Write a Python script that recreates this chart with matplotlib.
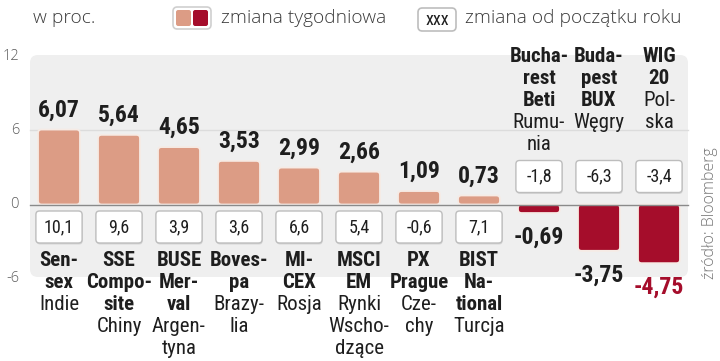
import numpy as np
from matplotlib import pyplot as plt
from matplotlib.patches import FancyBboxPatch
from matplotlib import font_manager as fm

# dane (w proc.)
index_names = ["Sen-\nsex", "SSE\nCompo-\nsite", "BUSE\nMer-\nval", "Boves-\npa",
               "MI-\nCEX", "MSCI\nEM", "PX\nPrague", "BIST\nNa-\ntional",
               "Bucha-\nrest\nBeti", "Buda-\npest\nBUX", "WIG\n20"]
countries = ["Indie", "Chiny", "Argen-\ntyna", "Brazy-\nlia", "Rosja",
             "Rynki\nWscho-\ndzące", "Cze-\nchy", "Turcja", "Rumu-\nnia",
             "Węgry", "Pol-\nska"]
weekly = [6.07, 5.64, 4.65, 3.53, 2.99, 2.66, 1.09, 0.73, -0.69, -3.75, -4.75]
ytd = [10.1, 9.6, 3.9, 3.6, 6.6, 5.4, -0.6, 7.1, -1.8, -6.3, -3.4]
yticks = [12, 6, 0, -6]
highlight = "WIG\n20"

# szukamy wąskiego kroju, jeśli go nie ma - Roboto
ttf = fm.fontManager.ttflist
avail = {f.name for f in ttf}
cond, stretch = 'Roboto' if 'Roboto' in avail else 'DejaVu Sans', 'normal'
for pref in ['Roboto Condensed', 'Liberation Sans Narrow', 'Open Sans Condensed',
             'Noto Sans', 'DejaVu Sans', 'Open Sans']:
    hit = [f for f in ttf if f.name == pref and f.stretch != 'normal']
    if hit or (pref in avail and ('Condensed' in pref or 'Narrow' in pref)):
        cond = pref
        stretch = hit[0].stretch if hit else 'normal'
        break
light = 'Open Sans' if 'Open Sans' in avail else 'DejaVu Sans'

def fmt(v):
    return ("%.2f" % v).replace(".", ",")

def fmt1(v):
    return ("%.1f" % v).replace(".", ",")

SALMON = '#dc9c85'
RED = '#a50d2b'
DARK = '#1e1e1e'

W, H = 720, 361
fig = plt.figure(figsize=(W / 100, H / 100), dpi=100)
ax = fig.add_axes([0, 0, 1, 1])
ax.axis('off')
rend = fig.canvas.get_renderer()

def fit(s, target, weight, cap):
    t = fig.text(0, 0, s, fontsize=10, family=cond, fontstretch=stretch, fontweight=weight)
    w = t.get_window_extent(renderer=rend).width
    t.remove()
    return min(cap, 10 * target / w)

fs_num = fit("6,07", 42, 'bold', 19)
fs_name = fit("Compo-", 66, 'bold', 15)
fs_box = fit("10,1", 30, 'normal', 13)
fs_name_n = fit("Wscho-", 61, 'normal', 15)

# skala: 60 px na indeks, 12.35 px na punkt proc., zero na 204.5 px od góry
pxx, pxy, zero_px, x0_px = 60.0, 12.35, 204.5, 59.0
ax.set_xlim(-x0_px / pxx, (W - x0_px) / pxx)
ax.set_ylim(-(H - zero_px) / pxy, zero_px / pxy)
asp = pxx / pxy

# szare tło
panel = FancyBboxPatch((30 / W, 1 - 277 / H), 658 / W, 222 / H,
                       boxstyle="round,pad=0,rounding_size=0.011",
                       mutation_aspect=W / H, transform=ax.transAxes,
                       fc='#efefef', ec='none', zorder=0)
ax.add_patch(panel)
xa, xb = (30 - x0_px) / pxx, (688 - x0_px) / pxx
ax.plot([xa, xb], [6, 6], color='#dcdcdc', lw=1, zorder=1)
ax.plot([xa, xb], [0, 0], color='#8a8a8a', lw=1, zorder=3)

for t in yticks:
    ax.text((19 - x0_px) / pxx, t, str(t), ha='right', va='center',
            fontsize=10.5, color='#5a5a5a', family=light, fontweight='light')

x = np.arange(len(weekly))
bars = ax.bar(x, weekly, width=0.7)
for i, b in enumerate(bars):
    bx, by = b.get_xy()
    bw, bh = b.get_width(), b.get_height()
    b.remove()
    col = SALMON if weekly[i] > 0 else RED
    ax.add_patch(FancyBboxPatch((bx, min(by, by + bh)), bw, abs(bh),
                                boxstyle="round,pad=0,rounding_size=0.06",
                                mutation_aspect=asp, fc=col, ec='#f6ebe5',
                                lw=1.3, zorder=2))

    v = weekly[i]
    lab_col = RED if index_names[i] == highlight else DARK
    if v > 0:
        off = 13
        by_c = -22.5 / pxy
    else:
        off = -31
        by_c = 28 / pxy
    ax.annotate(fmt(v), (i, v), xytext=(0, off), textcoords='offset pixels',
                ha='center', va='baseline', fontsize=fs_num, fontweight='bold',
                family=cond, fontstretch=stretch, color=lab_col)

    # ramka ze zmianą od początku roku
    bw2, bh2 = 0.77, 32 / pxy
    ax.add_patch(FancyBboxPatch((i - bw2 / 2 + 0.01, by_c - bh2 / 2 - 1.5 / pxy), bw2, bh2,
                                boxstyle="round,pad=0,rounding_size=0.06",
                                mutation_aspect=asp, fc='#d6d6d6', ec='none', zorder=3))
    ax.add_patch(FancyBboxPatch((i - bw2 / 2, by_c - bh2 / 2), bw2, bh2,
                                boxstyle="round,pad=0,rounding_size=0.06",
                                mutation_aspect=asp, fc='white', ec='#bdbdbd',
                                lw=1.0, zorder=4))
    ax.text(i, by_c, fmt1(ytd[i]), ha='center', va='center', fontsize=fs_box,
            family=cond, fontstretch=stretch, color=DARK, zorder=5)

    # nazwy indeksów
    lines = [(s, 'bold') for s in index_names[i].split('\n')] + \
            [(s, 'normal') for s in countries[i].split('\n')]
    for k, (s, wgt) in enumerate(lines):
        if v > 0:
            ypx = zero_px - (260 + 22 * k)
        else:
            ypx = zero_px - (56 + 22 * k)
        ax.annotate(s, (i, 0), xytext=(0, ypx), textcoords='offset pixels',
                    ha='center', va='center',
                    fontsize=fs_name if wgt == 'bold' else fs_name_n,
                    fontweight=wgt, family=cond, fontstretch=stretch, color=DARK)

# legenda
LEG = '#3a3a3a'
fig.text(33 / W, 1 - 18 / H, "w proc.", ha='left', va='center', fontsize=13.8,
         family=light, fontweight='light', color=LEG)
ax.add_patch(FancyBboxPatch((173 / W, 1 - 29 / H), 38 / W, 22 / H,
                            boxstyle="round,pad=0,rounding_size=0.006",
                            mutation_aspect=W / H, transform=ax.transAxes,
                            fc='white', ec='#cfcfcf', lw=1.2, zorder=5))
ax.add_patch(FancyBboxPatch((176 / W, 1 - 26 / H), 15 / W, 16 / H,
                            boxstyle="round,pad=0,rounding_size=0.003",
                            mutation_aspect=W / H, transform=ax.transAxes,
                            fc=SALMON, ec='none', zorder=6))
ax.add_patch(FancyBboxPatch((193 / W, 1 - 26 / H), 15 / W, 16 / H,
                            boxstyle="round,pad=0,rounding_size=0.003",
                            mutation_aspect=W / H, transform=ax.transAxes,
                            fc=RED, ec='none', zorder=6))
fig.text(221 / W, 1 - 18 / H, "zmiana tygodniowa", ha='left', va='center',
         fontsize=13.8, family=light, fontweight='light', color=LEG)
ax.add_patch(FancyBboxPatch((418 / W, 1 - 31 / H), 38 / W, 23 / H,
                            boxstyle="round,pad=0,rounding_size=0.006",
                            mutation_aspect=W / H, transform=ax.transAxes,
                            fc='white', ec='#bdbdbd', lw=1.2, zorder=5))
fig.text(437 / W, 1 - 20 / H, "xxx", ha='center', va='center', fontsize=fs_box,
         family=cond, fontstretch=stretch, color=DARK, zorder=7)
fig.text(465 / W, 1 - 18 / H, "zmiana od początku roku", ha='left', va='center',
         fontsize=13.8, family=light, fontweight='light', color=LEG)

fig.text(710 / W, 1 - 213 / H, "źródło: Bloomberg", rotation=90, ha='center',
         va='center', fontsize=11.5, family=light, fontweight='light', color='#777777')

plt.savefig("out.png", dpi=100)
